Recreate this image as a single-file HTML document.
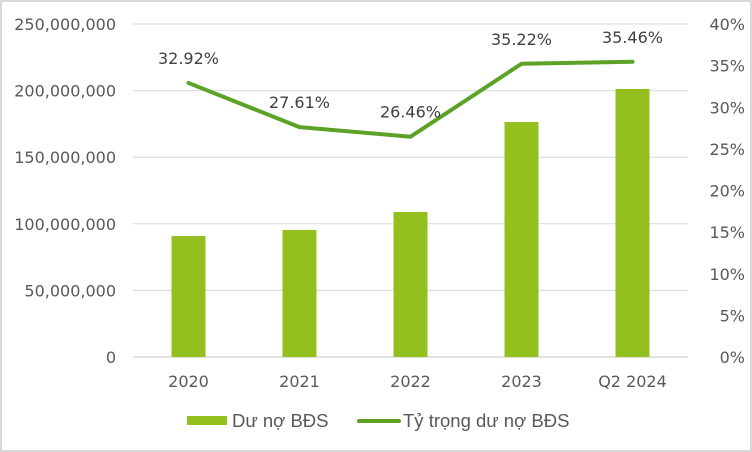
<!DOCTYPE html>
<html><head><meta charset="utf-8"><style>
body{margin:0;background:#fff}
svg{display:block;font-family:"DejaVu Sans","Liberation Sans",sans-serif}
</style></head><body>
<svg id="c" width="752" height="452">
<rect x="1" y="1" width="750" height="450" fill="#fff" stroke="#d9d9d9" stroke-width="2"/>
<g id="grid"></g><g id="bars"></g><g id="line"></g><g id="labels"></g>
<g fill="#595959">
<rect x="187" y="416" width="40" height="9" fill="#93c01f"/>
<text x="232" y="427" fill="#595959" font-family="Liberation Sans,sans-serif" font-size="18.5">Dư nợ BĐS</text>
<line x1="359" y1="421" x2="399" y2="421" stroke="#5ba227" stroke-width="4" stroke-linecap="round"/>
<text x="403" y="427" fill="#595959" font-family="Liberation Sans,sans-serif" font-size="18.5">Tỷ trọng dư nợ BĐS</text>
</g>
</svg>
<script>
const categories=["2020","2021","2022","2023","Q2 2024"];
const loans=[90800000,95400000,108900000,176400000,201200000];
const shares=[32.92,27.61,26.46,35.22,35.46];
const leftTicks=[0,50000000,100000000,150000000,200000000,250000000];
const rightTicks=[0,5,10,15,20,25,30,35,40];
const NS="http://www.w3.org/2000/svg";
const x0=133,x1=688,yTop=24,yBot=357;
const bw=(x1-x0)/categories.length;
const xc=i=>x0+bw*(i+0.5);
const yL=v=>yBot-(v/250000000)*(yBot-yTop);
const yR=v=>yBot-(v/40)*(yBot-yTop);
function mk(t,a,p){const e=document.createElementNS(NS,t);for(const k in a)e.setAttribute(k,a[k]);p.appendChild(e);return e;}
const g=document.getElementById('grid'),b=document.getElementById('bars'),l=document.getElementById('line'),lb=document.getElementById('labels');
leftTicks.forEach(v=>{
 const ln=mk('line',{x1:x0,x2:x1,y1:yL(v),y2:yL(v),stroke:'#d9d9d9','stroke-width':v===0?1.5:1},g);
 
 
 const t=mk('text',{x:116,y:yL(v)+6,'text-anchor':'end','font-size':16,fill:'#595959'},g);
 t.textContent=v.toLocaleString('en-US');
 
 
});
rightTicks.forEach(v=>{
 const t=mk('text',{x:745,y:yR(v)+6,'text-anchor':'end','font-size':16,fill:'#595959'},g);
 t.textContent=v+'%';
 
 
});
categories.forEach((c,i)=>{
 const r=mk('rect',{x:xc(i)-17,y:yL(loans[i]),width:34,height:yBot-yL(loans[i]),fill:'#93c01f'},b);
 
 
 const t=mk('text',{x:xc(i),y:387,'text-anchor':'middle','font-size':16,fill:'#595959'},lb);
 t.textContent=c;
 
 
 const s=mk('text',{x:xc(i),y:yR(shares[i])-19,'text-anchor':'middle','font-size':16,fill:'#404040'},lb);
 s.textContent=shares[i].toFixed(2)+'%';
 
 
});
const p=mk('polyline',{points:shares.map((v,i)=>xc(i)+','+yR(v)).join(' '),fill:'none',stroke:'#5ba227','stroke-width':4,'stroke-linecap':'round','stroke-linejoin':'round'},l);


</script>
</body></html>
